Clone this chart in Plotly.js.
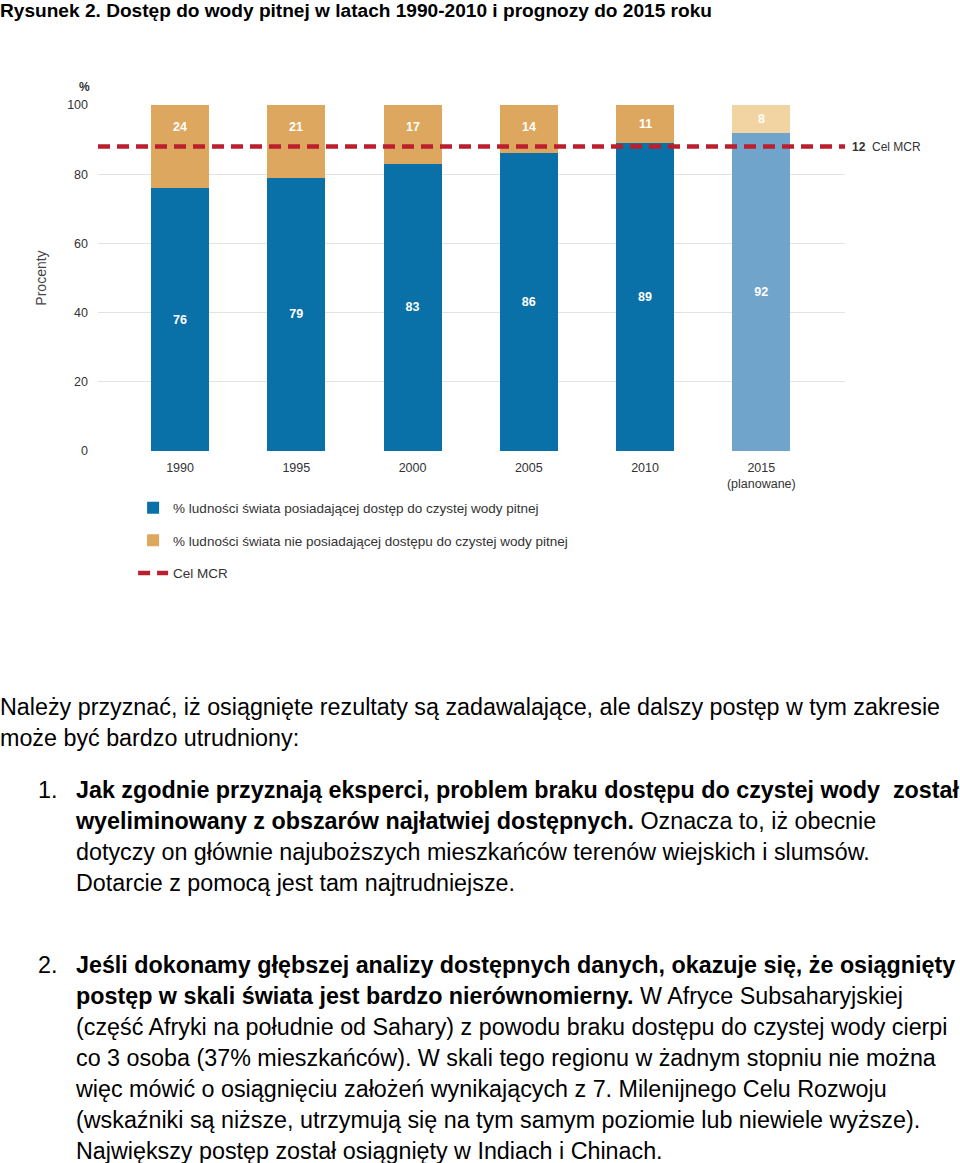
<!DOCTYPE html>
<html>
<head>
<meta charset="utf-8">
<script src="https://cdn.plot.ly/plotly-3.0.1.min.js"></script>
<style>
  html, body { margin: 0; padding: 0; background: #fff; }
  body { width: 960px; height: 1163px; overflow: hidden; position: relative; font-family: "Liberation Sans", Arial, sans-serif; color: #000; }
  #chart { position: absolute; left: 0; top: 0; width: 960px; height: 600px; }
  .title { position: absolute; left: 0; top: 1px; font-weight: bold; font-size: 19.1px; line-height: 20px; white-space: nowrap; }
  .para { position: absolute; left: 0; font-size: 23.3px; line-height: 31px; white-space: nowrap; }
  .item { position: absolute; left: 76px; font-size: 23.3px; line-height: 31px; white-space: nowrap; }
  .num { position: absolute; left: -38px; top: 0; }
  .plot .trace.bars .point path { filter: drop-shadow(4px 3px 3px rgba(0,0,0,0.22)); }
</style>
</head>
<body>
<div id="chart"></div>
<div class="title">Rysunek 2. Dostęp do wody pitnej w latach 1990-2010 i prognozy do 2015 roku</div>
<div class="para" style="top:692px;">Należy przyznać, iż osiągnięte rezultaty są zadawalające, ale dalszy postęp w tym zakresie<br>może być bardzo utrudniony:</div>
<div class="item" style="top:775px;"><span class="num">1.</span><b>Jak zgodnie przyznają eksperci, problem braku dostępu do czystej wody&nbsp; został</b><br><b>wyeliminowany z obszarów najłatwiej dostępnych.</b> Oznacza to, iż obecnie<br>dotyczy on głównie najuboższych mieszkańców terenów wiejskich i slumsów.<br>Dotarcie z pomocą jest tam najtrudniejsze.</div>
<div class="item" style="top:950px;"><span class="num">2.</span><b>Jeśli dokonamy głębszej analizy dostępnych danych, okazuje się, że osiągnięty</b><br><b>postęp w skali świata jest bardzo nierównomierny.</b> W Afryce Subsaharyjskiej<br>(część Afryki na południe od Sahary) z powodu braku dostępu do czystej wody cierpi<br>co 3 osoba (37% mieszkańców). W skali tego regionu w żadnym stopniu nie można<br>więc mówić o osiągnięciu założeń wynikających z 7. Milenijnego Celu Rozwoju<br>(wskaźniki są niższe, utrzymują się na tym samym poziomie lub niewiele wyższe).<br>Największy postęp został osiągnięty w Indiach i Chinach.</div>
<script>
// ---- data ----
const years = ["1990", "1995", "2000", "2005", "2010", "2015<br>(planowane)"];
const withAccess = [76, 79, 83, 86, 89, 92];
const withoutAccess = [24, 21, 17, 14, 11, 8];
const mdgTarget = 88;
const yTicks = [0, 20, 40, 60, 80, 100];
const seriesNames = [
  "% ludności świata posiadającej dostęp do czystej wody pitnej",
  "% ludności świata nie posiadającej dostępu do czystej wody pitnej",
  "Cel MCR"
];
const plannedIndex = 5;

// ---- styles ----
const BLUE = "#0A70A8", BLUE_LIGHT = "#70A4CA";
const ORANGE = "#DEA75F", ORANGE_LIGHT = "#F2D3A2";
const RED = "#BB1F2E";
const FONT = "Liberation Sans, Arial, sans-serif";

const blueColors = years.map((_, i) => i === plannedIndex ? BLUE_LIGHT : BLUE);
const orangeColors = years.map((_, i) => i === plannedIndex ? ORANGE_LIGHT : ORANGE);

const traces = [
  {
    type: "bar", x: years, y: withAccess, name: seriesNames[0], legendgroup: "a",
    marker: { color: blueColors, line: { width: 0 } },
    text: withAccess.map(String), textposition: "inside", insidetextanchor: "middle",
    textfont: { family: FONT, size: 12.5, color: "#ffffff", weight: "bold" },
    hoverinfo: "x+y"
  },
  {
    type: "bar", x: years, y: withoutAccess, name: seriesNames[1], legendgroup: "b",
    marker: { color: orangeColors, line: { width: 0 } },
    hoverinfo: "x+y"
  },
  {
    type: "scatter", mode: "lines", xaxis: "x2", x: [0, 1], y: [mdgTarget, mdgTarget],
    name: seriesNames[2], legendgroup: "c",
    line: { color: RED, width: 4.5, dash: "12px,7px" },
    hoverinfo: "y"
  }
];

const PLOT_H = 350; // px between y=0 and y=100
const annotations = withoutAccess.map((v, i) => {
  const segPx = v / 100 * PLOT_H;
  return {
    x: i, y: withAccess[i] + v, xref: "x", yref: "y",
    yshift: -Math.min(22, segPx / 2), showarrow: false,
    xanchor: "center", yanchor: "middle",
    text: String(v),
    font: { family: FONT, size: 12.5, color: "#ffffff", weight: "bold" }
  };
});
annotations.push({
  xref: "paper", yref: "y", x: 1, y: mdgTarget, xanchor: "left", yanchor: "middle", xshift: 5,
  showarrow: false, text: "<b>" + (100 - mdgTarget) + "</b>  Cel MCR",
  font: { family: FONT, size: 12, color: "#333" }
});
annotations.push({
  xref: "paper", yref: "paper", x: -0.0187, y: 1.051, xanchor: "center", yanchor: "middle",
  showarrow: false, text: "<b>%</b>", font: { family: FONT, size: 12, color: "#333" }
});

const layout = {
  width: 960, height: 600,
  margin: { l: 98, r: 115, t: 105, b: 145, pad: 0 },
  paper_bgcolor: "#ffffff", plot_bgcolor: "#ffffff",
  barmode: "stack", bargap: 0.5,
  showlegend: true,
  legend: {
    x: 0.047, y: -0.12, xanchor: "left", yanchor: "top",
    orientation: "v", traceorder: "grouped", tracegroupgap: 12,
    font: { family: FONT, size: 13.5, color: "#333" },
    itemwidth: 30, bgcolor: "rgba(0,0,0,0)"
  },
  xaxis: {
    type: "category", range: [-0.706, 5.72], showgrid: false, zeroline: false,
    showline: false, ticks: "", ticklabelstandoff: 7,
    tickfont: { family: FONT, size: 12.5, color: "#333" }
  },
  xaxis2: { overlaying: "x", range: [0, 1], visible: false, fixedrange: true },
  yaxis: {
    range: [0, 100], tickvals: yTicks, ticktext: yTicks.map(String),
    showgrid: true, gridcolor: "#e3e3e3", gridwidth: 1, zeroline: false,
    showline: false, ticks: "", ticklabelstandoff: 9,
    tickfont: { family: FONT, size: 12.5, color: "#333" },
    title: { text: "Procenty", standoff: 17, font: { family: FONT, size: 14, color: "#444" } }
  },
  annotations: annotations
};

Plotly.newPlot("chart", traces, layout, { displayModeBar: false, staticPlot: true });
</script>
</body>
</html>
